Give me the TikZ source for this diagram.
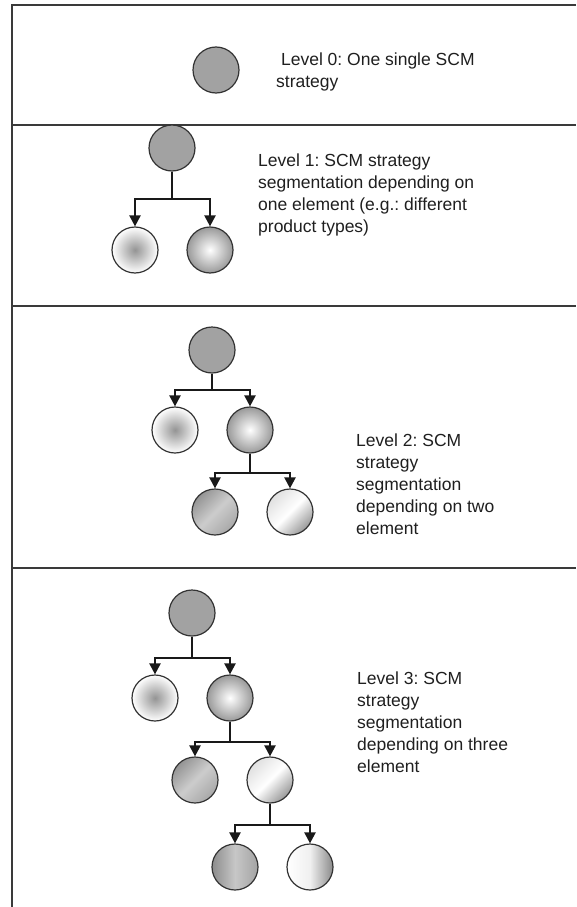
\documentclass[tikz,border=0pt]{standalone}
\usepackage{fontspec}
\setmainfont{Liberation Sans}
\usetikzlibrary{arrows.meta}
\definecolor{cgrey}{HTML}{A2A2A2}
\definecolor{cline}{HTML}{3A3A3A}
\frenchspacing
\begin{document}
\begin{tikzpicture}[x=1pt,y=-1pt,
  frame/.style={draw=cline, line width=1.7pt},
  ball/.style={circle, draw=black!80, line width=1.2pt, minimum size=46pt, inner sep=0pt},
  flat/.style={ball, fill=cgrey},
  radgrey/.style={ball, shading=radial, inner color=black!42, outer color=white},
  radwhite/.style={ball, shading=radial, inner color=white, outer color=black!40},
  diagdark/.style={ball, shading=axis, top color=black!42, bottom color=black!34, middle color=black!20, shading angle=45},
  diaglight/.style={ball, shading=axis, top color=black!12, bottom color=black!40, middle color=white, shading angle=45},
  horzdark/.style={ball, shading=axis, top color=black!45, bottom color=black!36, middle color=black!22, shading angle=90},
  horzlight/.style={ball, shading=axis, top color=white, bottom color=black!46, middle color=black!6, shading angle=90},
  conn/.style={line width=2.2pt, black!90},
  arr/.style={conn, -{Triangle[width=11pt,length=11pt]}},
  lbl/.style={anchor=north west, align=left, inner sep=0pt, text=black!88, font=\fontsize{17.5}{22}\selectfont}
]
\useasboundingbox (0,0) rectangle (576,907);
% frame
\draw[frame] (576,5) -- (12,5) -- (12,907);
\draw[frame] (12,125) -- (576,125);
\draw[frame] (12,306) -- (576,306);
\draw[frame] (12,568) -- (576,568);

% Level 0
\node[flat] (l0) at (216,70) {};
\node[lbl] (t0) at (276,53) {\ Level 0: One single SCM\\strategy};

% Level 1
\node[flat] (a0) at (172,148) {};
\node[radgrey] (a1) at (135,250) {};
\node[radwhite] (a2) at (210,250) {};
\coordinate (ab) at (172,199);
\draw[conn] (a0) -- (ab);
\draw[arr] (ab) -| (a1);
\draw[arr] (ab) -| (a2);
\node[lbl] (t1) at (258,154) {Level 1: SCM strategy\\segmentation depending on\\one element (e.g.: different\\product types)};

% Level 2
\node[flat] (b0) at (212,350) {};
\node[radgrey] (b1) at (175,430) {};
\node[radwhite] (b2) at (250,430) {};
\node[diagdark] (b3) at (215,512) {};
\node[diaglight] (b4) at (290,512) {};
\coordinate (bb1) at (212,390);
\coordinate (bb2) at (250,473);
\draw[conn] (b0) -- (bb1);
\draw[arr] (bb1) -| (b1);
\draw[arr] (bb1) -| (b2);
\draw[conn] (b2) -- (bb2);
\draw[arr] (bb2) -| (b3);
\draw[arr] (bb2) -| (b4);
\node[lbl] (t2) at (356,434) {Level 2: SCM\\strategy\\segmentation\\depending on two\\element};

% Level 3
\node[flat] (c0) at (192,613) {};
\node[radgrey] (c1) at (155,698) {};
\node[radwhite] (c2) at (230,698) {};
\node[diagdark] (c3) at (195,780) {};
\node[diaglight] (c4) at (270,780) {};
\node[horzdark] (c5) at (235,867) {};
\node[horzlight] (c6) at (310,867) {};
\coordinate (cb1) at (192,658);
\coordinate (cb2) at (230,742);
\coordinate (cb3) at (270,825);
\draw[conn] (c0) -- (cb1);
\draw[arr] (cb1) -| (c1);
\draw[arr] (cb1) -| (c2);
\draw[conn] (c2) -- (cb2);
\draw[arr] (cb2) -| (c3);
\draw[arr] (cb2) -| (c4);
\draw[conn] (c4) -- (cb3);
\draw[arr] (cb3) -| (c5);
\draw[arr] (cb3) -| (c6);
\node[lbl] (t3) at (357,672) {Level 3: SCM\\strategy\\segmentation\\depending on three\\element};
\end{tikzpicture}
\end{document}
